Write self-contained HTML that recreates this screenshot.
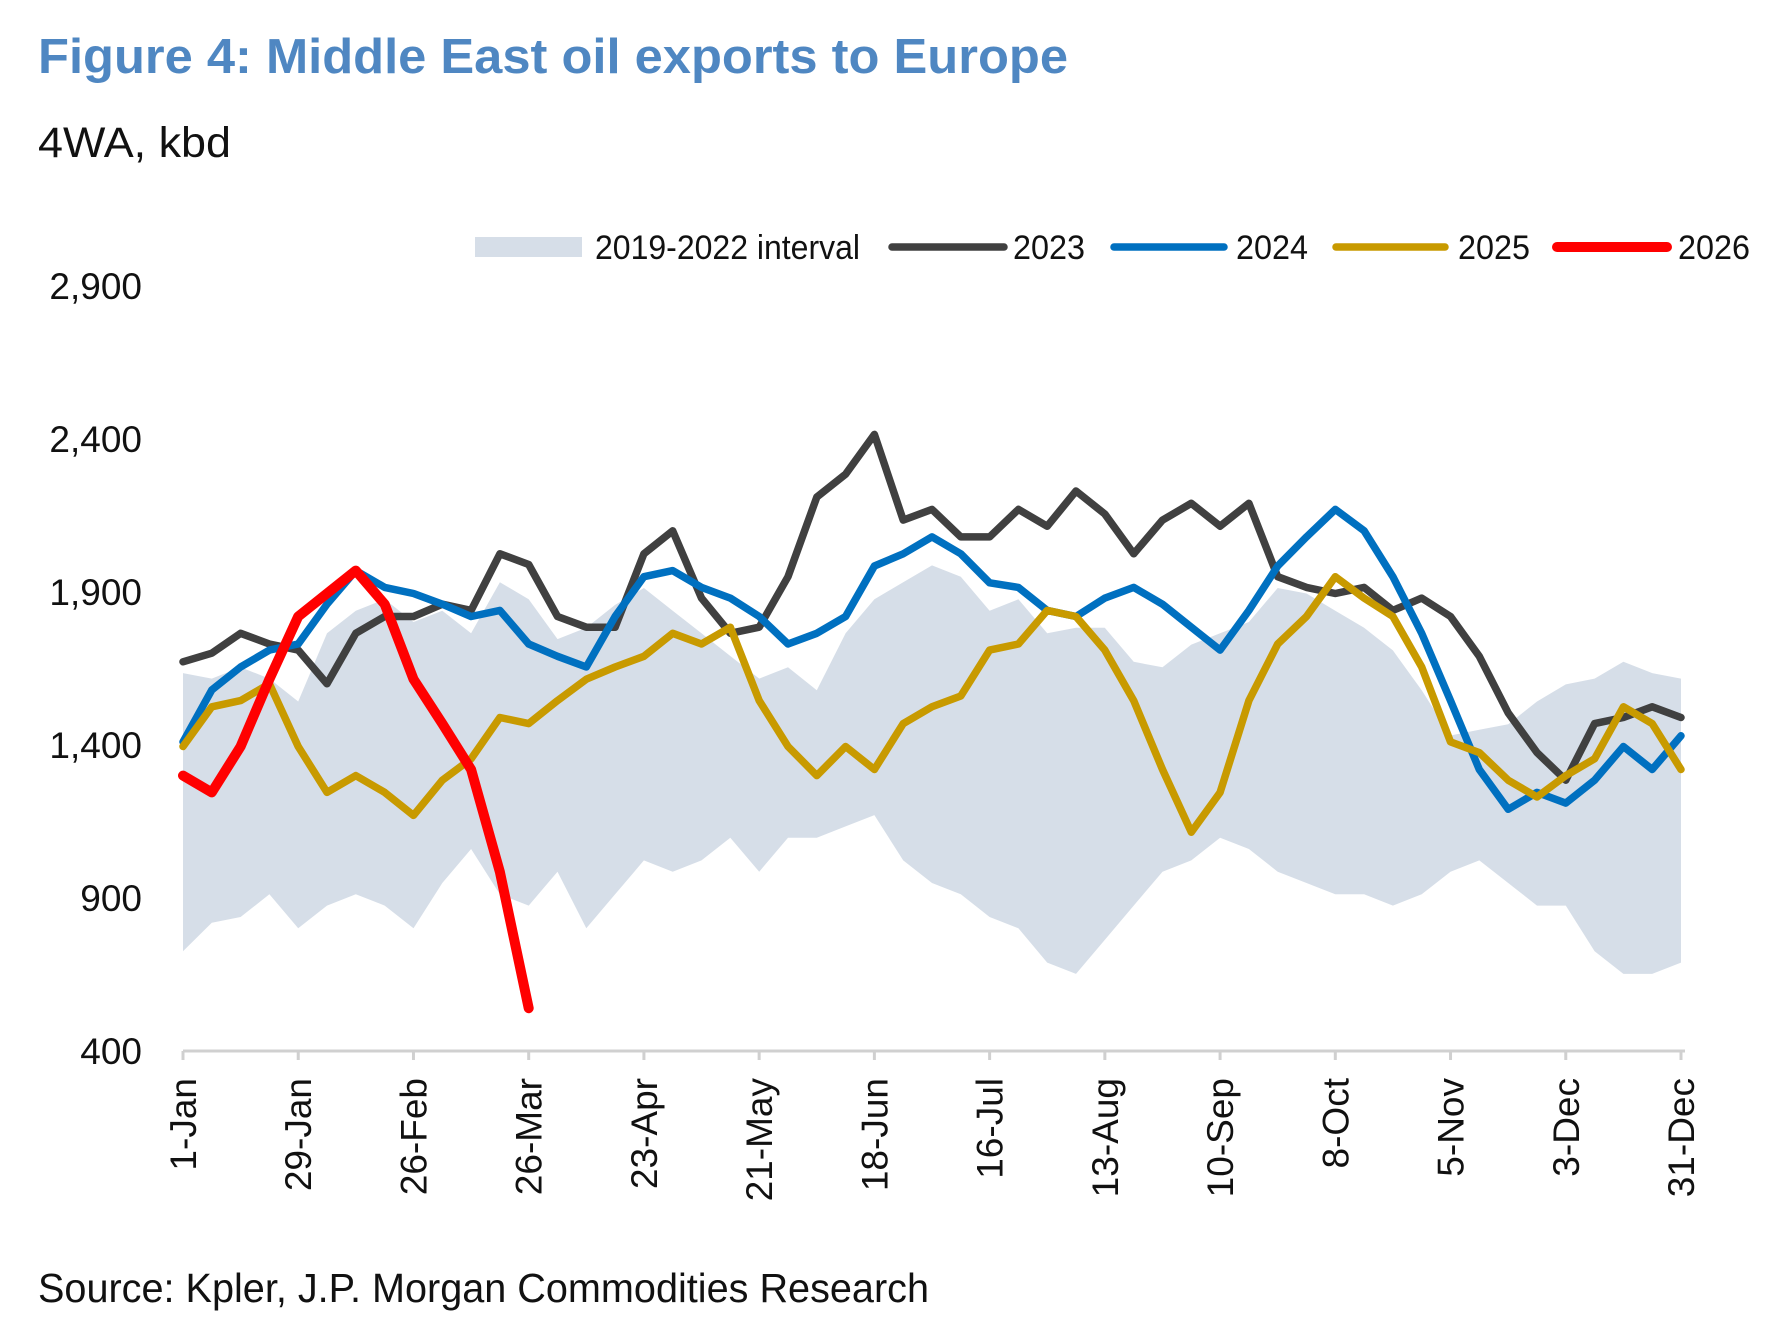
<!DOCTYPE html>
<html><head><meta charset="utf-8"><style>
html,body{margin:0;padding:0;background:#fff;}
svg{display:block;}
text{font-family:"Liberation Sans",Arial,sans-serif;}
</style></head>
<body>
<svg id="chart" width="1774" height="1340" viewBox="0 0 1774 1340" xmlns="http://www.w3.org/2000/svg">
<text x="38" y="73" font-size="49" font-weight="bold" fill="#4F87C2" textLength="1030" lengthAdjust="spacingAndGlyphs">Figure 4: Middle East oil exports to Europe</text>
<text x="38" y="157" font-size="43" fill="#111" textLength="193" lengthAdjust="spacingAndGlyphs">4WA, kbd</text>
<text x="38" y="1302" font-size="41" fill="#111" textLength="891" lengthAdjust="spacingAndGlyphs">Source: Kpler, J.P. Morgan Commodities Research</text>
<g id="legend">
<rect x="475" y="237" width="107" height="20" fill="#D6DEE8"/>
<text x="595" y="259" font-size="34" fill="#111" textLength="265" lengthAdjust="spacingAndGlyphs">2019-2022 interval</text>
<line x1="892" y1="247" x2="1004" y2="247" stroke="#404040" stroke-width="7.5" stroke-linecap="round"/>
<text x="1013" y="259" font-size="34" fill="#111" textLength="72" lengthAdjust="spacingAndGlyphs">2023</text>
<line x1="1114" y1="247" x2="1224" y2="247" stroke="#0070C0" stroke-width="7.5" stroke-linecap="round"/>
<text x="1236" y="259" font-size="34" fill="#111" textLength="72" lengthAdjust="spacingAndGlyphs">2024</text>
<line x1="1336" y1="247" x2="1445" y2="247" stroke="#C89A00" stroke-width="7.5" stroke-linecap="round"/>
<text x="1458" y="259" font-size="34" fill="#111" textLength="72" lengthAdjust="spacingAndGlyphs">2025</text>
<line x1="1557" y1="247" x2="1667" y2="247" stroke="#FF0000" stroke-width="10" stroke-linecap="round"/>
<text x="1678" y="259" font-size="34" fill="#111" textLength="72" lengthAdjust="spacingAndGlyphs">2026</text>
</g>
<g id="plot"></g>
</svg>
<script>
const yTicks = [400, 900, 1400, 1900, 2400, 2900];
const yTickLabels = ["400", "900", "1,400", "1,900", "2,400", "2,900"];
const xTickDays = [0, 28, 56, 84, 112, 140, 168, 196, 224, 252, 280, 308, 336, 364];
const xTickLabels = ["1-Jan","29-Jan","26-Feb","26-Mar","23-Apr","21-May","18-Jun","16-Jul","13-Aug","10-Sep","8-Oct","5-Nov","3-Dec","31-Dec"];
const weekStep = 7;
const bandUpper = [1635,1617,1654,1617,1542,1765,1839,1876,1802,1839,1765,1932,1876,1746,1783,1858,1913,1839,1765,1691,1617,1654,1579,1765,1876,1932,1987,1950,1839,1876,1765,1783,1783,1672,1654,1728,1765,1802,1913,1895,1839,1783,1709,1579,1431,1450,1468,1542,1598,1617,1672,1635,1617];
const bandLower = [726,819,838,912,801,875,912,875,801,949,1060,912,875,986,801,912,1023,986,1023,1097,986,1097,1097,1134,1171,1023,949,912,838,801,689,652,763,875,986,1023,1097,1060,986,949,912,912,875,912,986,1023,949,875,875,726,652,652,689];
const s2023 = [1672,1700,1765,1730,1710,1600,1765,1820,1820,1860,1840,2025,1990,1820,1785,1785,2025,2100,1880,1765,1785,1950,2210,2285,2415,2135,2170,2080,2080,2170,2115,2230,2155,2025,2135,2190,2115,2190,1950,1915,1895,1915,1840,1880,1820,1690,1505,1375,1285,1470,1490,1525,1490];
const s2024 = [1410,1580,1655,1710,1730,1860,1970,1915,1895,1860,1820,1840,1730,1690,1655,1820,1950,1970,1915,1880,1820,1730,1765,1820,1985,2025,2080,2025,1930,1915,1840,1820,1880,1915,1860,1785,1710,1840,1985,2080,2170,2100,1950,1765,1545,1320,1190,1245,1210,1285,1395,1320,1430];
const s2025 = [1395,1525,1545,1600,1395,1245,1300,1245,1170,1285,1355,1490,1470,1545,1615,1655,1690,1765,1730,1785,1545,1395,1300,1395,1320,1470,1525,1560,1710,1730,1840,1820,1710,1545,1320,1115,1245,1545,1730,1820,1950,1880,1820,1655,1410,1375,1285,1230,1300,1355,1525,1470,1320];
const s2026 = [1300,1245,1395,1615,1820,1895,1970,1860,1615,1470,1320,985,540];

const NS = "http://www.w3.org/2000/svg";
const plot = document.getElementById('plot');
const X0 = 183, X1 = 1681, Y0 = 1051, Y1 = 286;
function xScale(day){ return X0 + day * (X1 - X0) / 364; }
function yScale(v){ return Y0 - (v - 400) * (Y0 - Y1) / 2500; }
function mk(tag, attrs){ const e = document.createElementNS(NS, tag); for (const k in attrs) e.setAttribute(k, attrs[k]); plot.appendChild(e); return e; }
function dayOf(i){ return Math.min(i * weekStep, 364); }

let d = '';
bandUpper.forEach((v,i)=>{ d += (i?'L':'M') + xScale(dayOf(i)).toFixed(1) + ',' + yScale(v).toFixed(1); });
for (let i = bandLower.length - 1; i >= 0; i--) d += 'L' + xScale(dayOf(i)).toFixed(1) + ',' + yScale(bandLower[i]).toFixed(1);
const band = mk('path', {d: d + 'Z', fill: '#D6DEE8'});



const axis = mk('line', {x1: X0, y1: Y0, x2: X1 + 4, y2: Y0, stroke: '#d0d0d0', 'stroke-width': 3});


xTickDays.forEach((dd, i) => {
  const x = xScale(dd);
  const t = mk('line', {x1: x, y1: Y0, x2: x, y2: Y0 + 9, stroke: '#d0d0d0', 'stroke-width': 3});
  
  
  const lb = mk('text', {transform: 'translate(' + (x + 13) + ',' + (Y0 + 27) + ') rotate(-90)', 'text-anchor': 'end', 'font-size': 37, fill: '#111'});
  lb.textContent = xTickLabels[i];
  
  
});
yTicks.forEach((v, i) => {
  const lb = mk('text', {x: 142, y: yScale(v) + 13, 'text-anchor': 'end', 'font-size': 37, fill: '#111'});
  lb.textContent = yTickLabels[i];
  
  
});

function line(arr, color, w, name){
  let p = '';
  arr.forEach((v,i)=>{ p += (i?'L':'M') + xScale(dayOf(i)).toFixed(1) + ',' + yScale(v).toFixed(1); });
  const e = mk('path', {d: p, fill: 'none', stroke: color, 'stroke-width': w, 'stroke-linejoin': 'round', 'stroke-linecap': 'round'});
  
  
}
line(s2023, '#404040', 7.5, 'line-2023');
line(s2024, '#0070C0', 7.5, 'line-2024');
line(s2025, '#C89A00', 7.5, 'line-2025');
line(s2026, '#FF0000', 10, 'line-2026');
</script>
</body></html>
